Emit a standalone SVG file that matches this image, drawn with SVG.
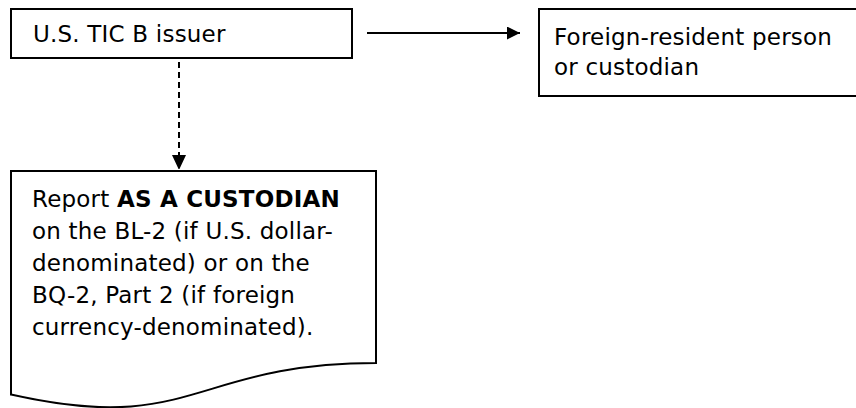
<svg xmlns="http://www.w3.org/2000/svg" width="856" height="408" viewBox="0 0 856 408">
<defs>
<style>
.box{fill:#fff;stroke:#000;stroke-width:2}
.t{font-family:"DejaVu Sans",Verdana,sans-serif;font-size:23px;letter-spacing:0.2px;fill:#000}
.b{font-weight:bold}
.ln{stroke:#000;stroke-width:2;fill:none}
</style>
<marker id="ah" markerWidth="13" markerHeight="13" refX="13" refY="6.5" orient="auto" markerUnits="userSpaceOnUse">
<path d="M0,0 L13,6.5 L0,13 Z" fill="#000"/>
</marker>
<marker id="ah2" markerWidth="14" markerHeight="15" refX="15" refY="7" orient="auto" markerUnits="userSpaceOnUse">
<path d="M0,0 L15,7 L0,14 Z" fill="#000"/>
</marker>
</defs>
<rect width="856" height="408" fill="#fff"/>
<g id="connectors">
<line class="ln" x1="367" y1="33" x2="520" y2="33" marker-end="url(#ah)"/>
<line class="ln" x1="179" y1="62" x2="179" y2="170" stroke-dasharray="6,4" marker-end="url(#ah2)"/>
</g>
<g id="issuer">
<rect class="box" x="11" y="9" width="341" height="49"/>
<text class="t" x="33" y="42">U.S. TIC B issuer</text>
</g>
<g id="foreign">
<rect class="box" x="539" y="9" width="330" height="87"/>
<text class="t" x="554" y="45">Foreign-resident person</text>
<text class="t" x="554" y="75">or custodian</text>
</g>
<g id="report">
<path class="box" d="M11,171 H376 V363 C193.5,363 193.5,436 11,394.6 Z"/>
<text class="t" x="32" y="207">Report <tspan class="b">AS A CUSTODIAN</tspan></text>
<text class="t" x="32" y="239">on the BL-2 (if U.S. dollar-</text>
<text class="t" x="32" y="271">denominated) or on the</text>
<text class="t" x="32" y="303">BQ-2, Part 2 (if foreign</text>
<text class="t" x="32" y="335">currency-denominated).</text>
</g>
</svg>
